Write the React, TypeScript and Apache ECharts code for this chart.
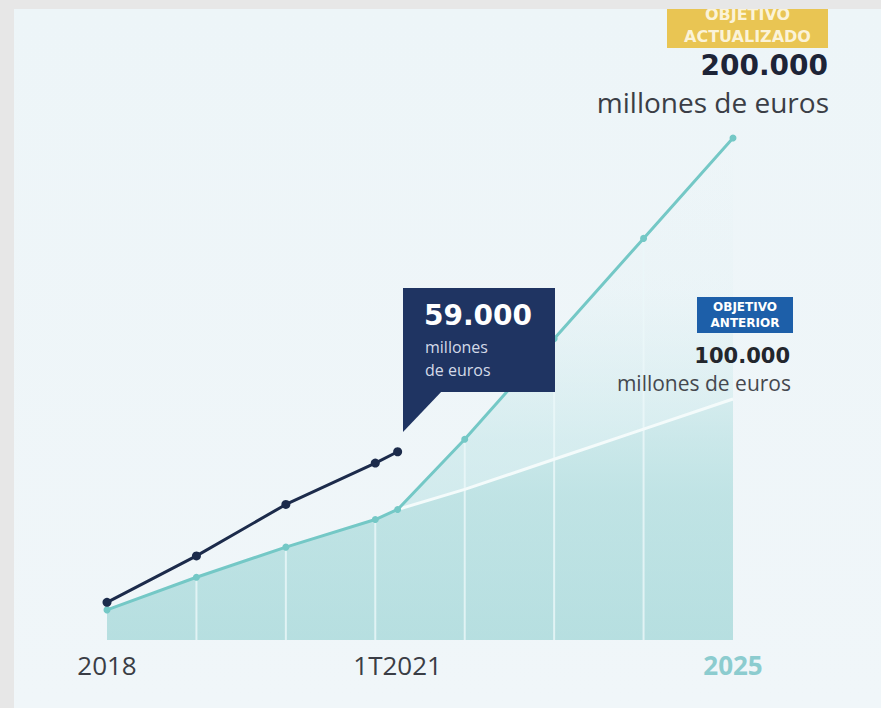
import React, { useEffect, useRef } from "react";
import * as echarts from "echarts";

// Years on a numeric axis (1T2021 = end of first quarter 2021)
const years = [2018, 2019, 2020, 2021, 2021.25, 2022, 2023, 2024, 2025];
// Objetivo actualizado trajectory (visual units, thousand million euros)
const actualizado = [12, 25, 37, 48, 52, 80, 120, 160, 200];
// Objetivo anterior trajectory
const anterior = [12, 25, 37, 48, 52, 60, 72, 84, 96];
// Real (achieved) values
const realYears = [2018, 2019, 2020, 2021, 2021.25];
const real = [15, 33.5, 54, 70.5, 75];
// Yearly guide lines
const guideYears = [2019, 2020, 2021, 2022, 2023, 2024];
const guideValues = [25, 37, 48, 80, 120, 160];
// Tick labels
const tickValues = [2018, 2021.25, 2025];
const tickLabels = ["2018", "1T2021", "2025"];

const zip = (xs: number[], ys: number[]) => xs.map((x, i) => [x, ys[i]]);

export default function App() {
  const ref = useRef<HTMLDivElement>(null);
  useEffect(() => {
    if (!ref.current) return;
    const chart = echarts.init(ref.current, null, { renderer: "svg" });
    const anteriorStart = years.indexOf(2021.25);
    const option: any = {
      animation: false,
      backgroundColor: "transparent",
      grid: { left: 107, right: 148, top: 12.5, bottom: 68 },
      xAxis: {
        type: "value",
        min: 2018,
        max: 2025,
        axisLine: { show: false },
        axisTick: { show: false },
        splitLine: { show: false },
        axisLabel: {
          customValues: tickValues,
          margin: 12,
          formatter: (v: number) => {
            const i = tickValues.indexOf(v);
            const t = i >= 0 ? tickLabels[i] : "";
            return v === 2025 ? "{hl|" + t + "}" : "{n|" + t + "}";
          },
          rich: {
            n: { fontFamily: "Open Sans", fontSize: 26, color: "#3a3d45" },
            hl: { fontFamily: "Open Sans", fontSize: 26, fontWeight: "bold", color: "#8ccccf" },
          },
        },
      },
      yAxis: { type: "value", min: 0, max: 250, show: false },
      series: [
        {
          type: "line",
          silent: true,
          data: zip(years, actualizado),
          symbol: "none",
          lineStyle: { width: 0 },
          areaStyle: {
            color: new echarts.graphic.LinearGradient(0, 0, 0, 1, [
              { offset: 0, color: "rgba(205,234,236,0)" },
              { offset: 0.3, color: "rgba(205,234,236,0.15)" },
              { offset: 0.6, color: "rgba(195,230,232,0.8)" },
              { offset: 1, color: "rgba(180,223,225,1)" },
            ]),
          },
          z: 1,
        },
        {
          type: "line",
          silent: true,
          data: zip(years, anterior),
          symbol: "none",
          lineStyle: { width: 0 },
          areaStyle: {
            color: new echarts.graphic.LinearGradient(0, 0, 0, 1, [
              { offset: 0, color: "#d0eaec" },
              { offset: 0.4, color: "#b8e0e1" },
              { offset: 1, color: "#b0dcdd" },
            ]),
          },
          z: 1,
        },
        {
          type: "custom",
          silent: true,
          data: zip(guideYears, guideValues),
          encode: { x: 0, y: 1 },
          renderItem: (params: any, api: any) => {
            const x = api.value(0);
            const v = api.value(1);
            const p0 = api.coord([x, 0]);
            const p1 = api.coord([x, v]);
            return {
              type: "line",
              shape: { x1: p0[0], y1: p0[1], x2: p1[0], y2: p1[1] },
              style: { stroke: "rgba(235,248,249,0.8)", lineWidth: 2 },
            };
          },
          z: 2,
        },
        {
          type: "line",
          name: "Objetivo anterior",
          data: zip(years.slice(anteriorStart), anterior.slice(anteriorStart)),
          symbol: "none",
          lineStyle: { color: "#f4fbfb", width: 3 },
          z: 3,
        },
        {
          type: "line",
          name: "Objetivo actualizado",
          data: zip(years, actualizado),
          symbol: "circle",
          symbolSize: 7,
          itemStyle: { color: "#74c8c6" },
          lineStyle: { color: "#74c8c6", width: 3 },
          z: 4,
        },
        {
          type: "line",
          name: "Real",
          data: zip(realYears, real),
          symbol: "circle",
          symbolSize: 9,
          itemStyle: { color: "#1c2b4b" },
          lineStyle: { color: "#1c2b4b", width: 3 },
          z: 5,
        },
      ],
      graphic: [
        // callout 59.000
        { type: "rect", z: 100, shape: { x: 403, y: 288, width: 152, height: 104 }, style: { fill: "#1f3462" } },
        { type: "polygon", z: 100, shape: { points: [[403, 390], [403, 432], [443, 390]] }, style: { fill: "#1f3462" } },
        { type: "text", z: 101, x: 424, y: 315, style: { text: "59.000", fontFamily: "DejaVu Sans", fontWeight: "bold", fontSize: 28, fill: "#ffffff", verticalAlign: "middle" } },
        { type: "text", z: 101, x: 425, y: 347, style: { text: "millones", fontFamily: "Open Sans", fontSize: 16, fill: "#d3dae8", verticalAlign: "middle" } },
        { type: "text", z: 101, x: 425, y: 370, style: { text: "de euros", fontFamily: "Open Sans", fontSize: 16, fill: "#d3dae8", verticalAlign: "middle" } },
        // objetivo actualizado
        { type: "rect", z: 100, shape: { x: 667, y: 0, width: 161, height: 48 }, style: { fill: "#e9c553" } },
        { type: "text", z: 101, x: 747.5, y: 14, style: { text: "OBJETIVO", fontFamily: "DejaVu Sans", fontWeight: "bold", fontSize: 16, fill: "#fbf3d8", align: "center", verticalAlign: "middle" } },
        { type: "text", z: 101, x: 747.5, y: 36, style: { text: "ACTUALIZADO", fontFamily: "DejaVu Sans", fontWeight: "bold", fontSize: 16, fill: "#fbf3d8", align: "center", verticalAlign: "middle" } },
        { type: "text", z: 101, x: 828, y: 65, style: { text: "200.000", fontFamily: "DejaVu Sans", fontWeight: "bold", fontSize: 28, fill: "#1d2437", align: "right", verticalAlign: "middle" } },
        { type: "text", z: 101, x: 829, y: 102, style: { text: "millones de euros", fontFamily: "Open Sans", fontSize: 28, fill: "#3b3e46", align: "right", verticalAlign: "middle" } },
        // objetivo anterior
        { type: "rect", z: 100, shape: { x: 697, y: 297, width: 96, height: 36 }, style: { fill: "#1d5fa9" } },
        { type: "text", z: 101, x: 745, y: 307, style: { text: "OBJETIVO", fontFamily: "DejaVu Sans", fontWeight: "bold", fontSize: 12, fill: "#ffffff", align: "center", verticalAlign: "middle" } },
        { type: "text", z: 101, x: 745, y: 323, style: { text: "ANTERIOR", fontFamily: "DejaVu Sans", fontWeight: "bold", fontSize: 12, fill: "#ffffff", align: "center", verticalAlign: "middle" } },
        { type: "text", z: 101, x: 790, y: 356, style: { text: "100.000", fontFamily: "DejaVu Sans", fontWeight: "bold", fontSize: 21, fill: "#23262d", align: "right", verticalAlign: "middle" } },
        { type: "text", z: 101, x: 791, y: 383, style: { text: "millones de euros", fontFamily: "Open Sans", fontSize: 21, fill: "#45484f", align: "right", verticalAlign: "middle" } },
        // outer frame strip on top
        { type: "rect", z: 300, shape: { x: 0, y: 0, width: 881, height: 9 }, style: { fill: "#e7e7e7" } },
      ],
    };
    chart.setOption(option);
    return () => chart.dispose();
  }, []);

  return (
    <div style={{ position: "absolute", left: 0, top: 0, width: 881, height: 708, background: "#e7e7e7" }}>
      <div
        style={{
          position: "absolute",
          left: 14,
          top: 9,
          right: 0,
          bottom: 0,
          background: "linear-gradient(180deg, #edf5f8 0%, #f0f6f9 100%)",
        }}
      />
      <div ref={ref} style={{ position: "absolute", left: 0, top: 0, width: 881, height: 708 }} />
    </div>
  );
}
